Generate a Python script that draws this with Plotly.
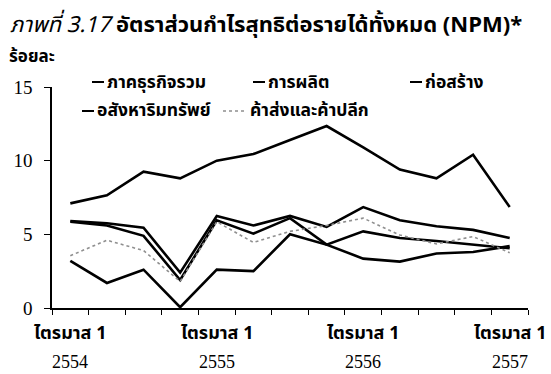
import plotly.graph_objects as go

# ---- data ----
categories = [f"ไตรมาส {q} {y}" for y in ["2554", "2555", "2556"] for q in [1, 2, 3, 4]] + ["ไตรมาส 1 2557"]
tick_quarter = ["ไตรมาส 1", "ไตรมาส 1", "ไตรมาส 1", "ไตรมาส 1"]
tick_year = ["2554", "2555", "2556", "2557"]
tick_pos = [0, 4, 8, 12]

total = [5.9, 5.75, 5.45, 2.4, 6.25, 5.6, 6.25, 5.5, 6.85, 5.95, 5.55, 5.3, 4.75]
manufacturing = [5.85, 5.6, 4.9, 1.9, 5.95, 5.05, 6.1, 4.3, 3.35, 3.15, 3.7, 3.8, 4.2]
construction = [3.2, 1.7, 2.6, 0.05, 2.6, 2.5, 5.0, 4.3, 5.2, 4.75, 4.55, 4.3, 4.05]
real_estate = [7.1, 7.65, 9.25, 8.8, 10.0, 10.45, 11.4, 12.35, 10.9, 9.4, 8.8, 10.4, 6.85]
wholesale = [3.55, 4.6, 3.9, 1.8, 5.85, 4.45, 5.2, 5.6, 6.1, 4.95, 4.35, 4.85, 3.75]

names = ["ภาคธุรกิจรวม", "การผลิต", "ก่อสร้าง", "อสังหาริมทรัพย์", "ค้าส่งและค้าปลีก"]
series = [total, manufacturing, construction, real_estate, wholesale]

W, H = 551, 374
ML, MR, MT, MB = 52, 23, 87, 66
PW, PH = W - ML - MR, H - MT - MB

def px(x):
    return (x - ML) / PW

def py(y):
    return (H - MB - y) / PH

THAI = "Tahoma, 'Noto Sans Thai', 'Loma', 'Garuda', sans-serif"
SERIF = "'Liberation Serif', 'Times New Roman', serif"

styles = [
    dict(color="black", width=2.6),
    dict(color="black", width=2.6),
    dict(color="black", width=2.6),
    dict(color="black", width=2.6),
    dict(color="#8f8f8f", width=1.6, dash="dot"),
]

fig = go.Figure()
xs = list(range(len(categories)))
for name, vals, st in zip(names, series, styles):
    fig.add_trace(go.Scatter(x=xs, y=vals, mode="lines", name=name, line=st,
                             text=categories, showlegend=False))

fig.update_layout(
    width=W, height=H,
    margin=dict(l=ML, r=MR, t=MT, b=MB),
    paper_bgcolor="white", plot_bgcolor="white",
    font=dict(family=SERIF, size=16, color="black"),
    xaxis=dict(range=[-0.5, 12.5], showgrid=False, zeroline=False,
               showline=True, linecolor="black", linewidth=1.5,
               tickmode="array", tickvals=[i - 0.5 for i in range(14)],
               ticktext=[""] * 14, ticks="outside", ticklen=5, tickcolor="black"),
    yaxis=dict(range=[0, 15], showgrid=False, zeroline=False,
               showline=True, linecolor="black", linewidth=1.5,
               tickvals=[0, 5, 10, 15], ticks="outside", ticklen=6,
               tickcolor="black", ticklabelstandoff=8,
               tickfont=dict(family=SERIF, size=19)),
)

ann = []
# title
ann.append(dict(xref="paper", yref="paper", x=px(8), y=py(25), xanchor="left", yanchor="middle",
                text="<i>ภาพที่ 3.17</i> <b>อัตราส่วนกำไรสุทธิต่อรายได้ทั้งหมด (NPM)*</b>",
                showarrow=False, font=dict(family=THAI, size=22)))
ann.append(dict(xref="paper", yref="paper", x=px(7), y=py(57), xanchor="left", yanchor="middle",
                text="<b>ร้อยละ</b>", showarrow=False, font=dict(family=THAI, size=17)))

# x labels
for p, q, yv in zip(tick_pos, tick_quarter, tick_year):
    ann.append(dict(xref="x", yref="paper", x=p, y=py(333), xanchor="center", yanchor="middle",
                    text=f"<b>{q}</b>", showarrow=False, font=dict(family=THAI, size=18)))
    ann.append(dict(xref="x", yref="paper", x=p, y=py(362), xanchor="center", yanchor="middle",
                    text=yv, showarrow=False, font=dict(family=SERIF, size=18)))

# manual legend
leg_pos = [(92, 82), (253, 82), (410, 82), (82, 111), (223, 111)]
shapes = []
for (lx, ly), name, st in zip(leg_pos, names, styles):
    seg = 24 if st.get("dash") else 12
    shapes.append(dict(type="line", xref="paper", yref="paper",
                       x0=px(lx), x1=px(lx + seg), y0=py(ly), y1=py(ly),
                       line=dict(color=st["color"], width=2 if not st.get("dash") else 1.5,
                                 dash=st.get("dash", "solid"))))
    ann.append(dict(xref="paper", yref="paper", x=px(lx + seg + 1), y=py(ly), xanchor="left",
                    yanchor="middle", text=f"<b>{name}</b>", showarrow=False,
                    font=dict(family=THAI, size=17.5)))

fig.update_layout(annotations=ann, shapes=shapes)
fig.write_html("out.html", config={"displayModeBar": False},
               post_script="document.body.style.margin='0';")
